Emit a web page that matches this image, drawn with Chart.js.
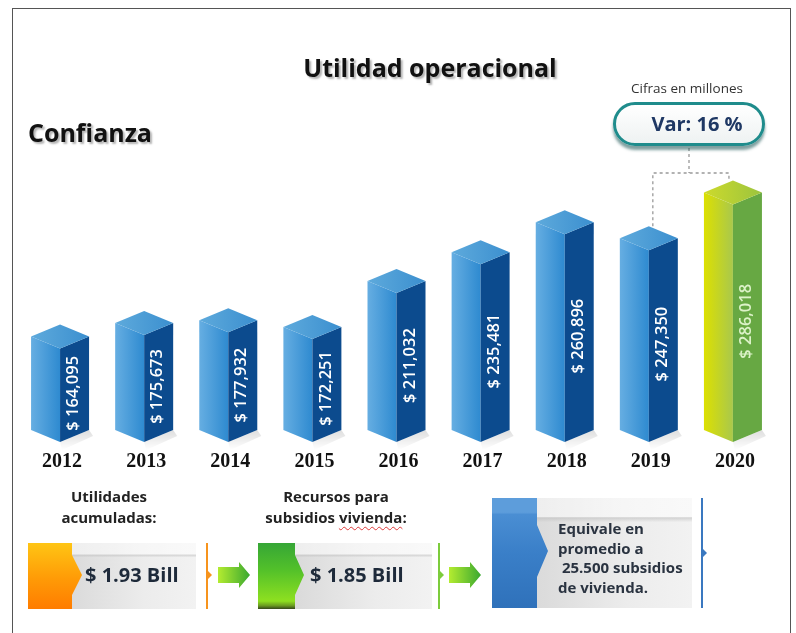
<!DOCTYPE html>
<html>
<head>
<meta charset="utf-8">
<script src="https://cdn.jsdelivr.net/npm/chart.js@4.4.1/dist/chart.umd.min.js"></script>
<style>
  body { margin: 0; background: #fff; font-family: 'Open Sans', sans-serif; }
  #wrap { position: relative; width: 796px; height: 633px; overflow: hidden; }
  #frame { position: absolute; left: 12px; top: 8px; width: 777px; height: 640px; border: 1.5px solid #555; }
  #chart { position: absolute; left: 0; top: 0; }
  .abs { position: absolute; }
  .big { font-weight: 700; font-size: 25px; color: #111; text-shadow: 2px 2px 2px rgba(0,0,0,0.3); white-space: nowrap; }
  #title { left: 0; width: 860px; top: 50px; text-align: center; }
  #conf { left: 28px; top: 115px; }
  #cifras { left: 612px; width: 150px; top: 79px; text-align: center; font-size: 13.5px; color: #333; }
  #pill { left: 613px; top: 102px; width: 130px; height: 38px; border: 3px solid #1f8c8c; border-radius: 22px;
          background: linear-gradient(#ffffff, #eef2f2); box-shadow: 0 4px 3px rgba(20,80,80,0.55);
          font-weight: 700; font-size: 20px; color: #1f3864; text-align: center; line-height: 38px; padding-left: 16px; }
  .cap { font-weight: 700; font-size: 15px; color: #222; text-align: center; line-height: 21px; white-space: nowrap; }
  .wavy { text-decoration: underline wavy #e03a3a; text-decoration-thickness: 1px; text-underline-offset: 3px; }
  .gray { background:
            linear-gradient(to bottom, rgba(255,255,255,0.55) 0, rgba(255,255,255,0.55) 17%, rgba(190,190,190,0.6) 18%, rgba(255,255,255,0) 22%),
            linear-gradient(to right, #d9d9d9, #ececec 60%, #f2f2f2); }
  .val { font-weight: 700; font-size: 20px; color: #1e2a3a; white-space: nowrap; }
  .vline { width: 2px; }
  .tri { width: 0; height: 0; border-top: 4px solid transparent; border-bottom: 4px solid transparent; }
  .arrow { width: 32px; height: 26px; background: linear-gradient(to right, #b4ec30, #3aa830);
           clip-path: polygon(0 5px, 21px 5px, 21px 0, 32px 13px, 21px 26px, 21px 21px, 0 21px); }
</style>
</head>
<body>
<div id="wrap">
  <div id="frame"></div>
  <canvas id="chart" width="796" height="633"></canvas>

  <div id="title" class="abs big">Utilidad operacional</div>
  <div id="conf" class="abs big">Confianza</div>
  <div id="cifras" class="abs">Cifras en millones</div>
  <div id="pill" class="abs">Var: 16 %</div>

  <!-- bloque 1 -->
  <div class="abs cap" style="left:49px; width:120px; top:486px;">Utilidades<br>acumuladas:</div>
  <div class="abs gray" style="left:66px; top:543px; width:130px; height:66px;"></div>
  <div class="abs" style="left:28px; top:543px; width:54px; height:66px;
       background: linear-gradient(to bottom, #ffc514, #ff9a06 55%, #ff7c00);
       clip-path: polygon(0 0, 44px 0, 44px 12px, 54px 32px, 44px 52px, 44px 100%, 0 100%);"></div>
  <div class="abs val" style="left:85px; top:561px;">$ 1.93 Bill</div>
  <div class="abs vline" style="left:206px; top:543px; height:66px; background:#f7941d;"></div>
  <div class="abs tri" style="left:208px; top:571px; border-left:4px solid #f7941d;"></div>
  <div class="abs arrow" style="left:218px; top:562px;"></div>

  <!-- bloque 2 -->
  <div class="abs cap" style="left:256px; width:160px; top:486px;">Recursos para<br>subsidios <span class="wavy">vivienda</span>:</div>
  <div class="abs gray" style="left:290px; top:543px; width:142px; height:66px;"></div>
  <div class="abs" style="left:258px; top:543px; width:46px; height:66px;
       background: linear-gradient(to bottom, #36a636, #52c02a 40%, #8ee020 88%, #6a9a20 95%, #34461a 100%);
       clip-path: polygon(0 0, 37px 0, 37px 12px, 46px 32px, 37px 52px, 37px 100%, 0 100%);"></div>
  <div class="abs val" style="left:310px; top:561px;">$ 1.85 Bill</div>
  <div class="abs vline" style="left:438px; top:543px; height:66px; background:#7ccc3c;"></div>
  <div class="abs tri" style="left:440px; top:571px; border-left:4px solid #7ccc3c;"></div>
  <div class="abs arrow" style="left:449px; top:562px;"></div>

  <!-- bloque 3 -->
  <div class="abs gray" style="left:530px; top:498px; width:162px; height:110px;"></div>
  <div class="abs" style="left:492px; top:498px; width:56px; height:110px;
       background: linear-gradient(to bottom, #5d9ddb 0, #5d9ddb 13%, #4a8ed3 15%, #3a7fc8 50%, #2f71ba 100%);
       clip-path: polygon(0 0, 45px 0, 45px 27px, 56px 53px, 45px 79px, 45px 100%, 0 100%);"></div>
  <div class="abs" style="left:558px; top:519px; font-weight:700; font-size:15px; line-height:19.5px; color:#2a3340; white-space:pre;">Equivale en
promedio a
 25.500 subsidios
de vivienda.</div>
  <div class="abs vline" style="left:701px; top:498px; height:110px; background:#3a78c0;"></div>
  <div class="abs tri" style="left:703px; top:549px; border-left:4px solid #3a78c0;"></div>
</div>

<script>
const YEARS = ['2012', '2013', '2014', '2015', '2016', '2017', '2018', '2019', '2020'];
const UTILIDAD = [164095, 175673, 177932, 172251, 211032, 235481, 260896, 247350, 286018];
const VALUE_LABELS = UTILIDAD.map(v => '$ ' + v.toLocaleString('en-US'));
const HIGHLIGHT = 8;
const Y_MIN = 85000, Y_MAX = 300000;

const BLUE = { left0: '#66aee2', left1: '#2e8ad0', right: '#0c4b8e', top0: '#5eaadc', top1: '#3b8fcf', text: '#ffffff' };
const GREEN = { left0: '#dde000', left1: '#a9c84c', right: '#67a843', top0: '#cdda2c', top1: '#9cc43e', text: '#dcf2c8' };
const DEPTH = 12;

function poly(ctx, pts, fill) {
  ctx.beginPath();
  ctx.moveTo(pts[0][0], pts[0][1]);
  pts.slice(1).forEach(p => ctx.lineTo(p[0], p[1]));
  ctx.closePath();
  ctx.fillStyle = fill;
  ctx.fill();
}

const prismPlugin = {
  id: 'prism',
  afterDatasetsDraw(chart) {
    const ctx = chart.ctx;
    const meta = chart.getDatasetMeta(0);
    const d = DEPTH;
    meta.data.forEach((bar, i) => {
      const { x, y, base, width } = bar.getProps(['x', 'y', 'base', 'width'], true);
      const w = width / 2;
      const col = i === HIGHLIGHT ? GREEN : BLUE;
      ctx.save();

      // sombra en el piso
      const gs = ctx.createLinearGradient(0, base - d, 0, base + 8);
      gs.addColorStop(0, 'rgba(0,0,0,0.13)');
      gs.addColorStop(1, 'rgba(0,0,0,0)');
      poly(ctx, [[x, base], [x + w, base - d], [x + w + 4, base - d + 6], [x + 2, base + 8]], gs);

      const gl = ctx.createLinearGradient(x - w, 0, x, 0);
      gl.addColorStop(0, col.left0);
      gl.addColorStop(1, col.left1);
      poly(ctx, [[x - w, y - d], [x, y], [x, base], [x - w, base - d]], gl);

      poly(ctx, [[x, y], [x + w, y - d], [x + w, base - d], [x, base]], col.right);

      const gt = ctx.createLinearGradient(x - w, 0, x + w, 0);
      gt.addColorStop(0, col.top0);
      gt.addColorStop(1, col.top1);
      poly(ctx, [[x - w, y - d], [x, y - 2 * d], [x + w, y - d], [x, y]], gt);

      // etiqueta de valor
      ctx.translate(x + w / 2 - 1, (y + base) / 2 - 2);
      ctx.rotate(-Math.PI / 2);
      ctx.font = '600 16.5px "Open Sans"';
      ctx.fillStyle = col.text;
      ctx.textAlign = 'center';
      ctx.textBaseline = 'middle';
      ctx.fillText(VALUE_LABELS[i], 0, 0);
      ctx.restore();

      ctx.save();
      ctx.font = 'bold 20px "Liberation Serif"';
      ctx.fillStyle = '#111';
      ctx.textAlign = 'center';
      ctx.textBaseline = 'middle';
      ctx.fillText(YEARS[i], x + 2, base + 20);
      ctx.restore();
    });

    // conector punteado desde la etiqueta de variacion
    const b19 = meta.data[7], b20 = meta.data[8];
    const yH = 173;
    ctx.save();
    ctx.strokeStyle = '#999';
    ctx.lineWidth = 1.3;
    ctx.setLineDash([3, 3]);
    ctx.beginPath();
    ctx.moveTo(689, 148); ctx.lineTo(689, yH);
    ctx.moveTo(b19.x + 4, b19.y - 2 * d); ctx.lineTo(b19.x + 4, yH); ctx.lineTo(b20.x - 4, yH); ctx.lineTo(b20.x - 4, b20.y - 2 * d);
    ctx.stroke();
    ctx.restore();
  }
};

new Chart(document.getElementById('chart'), {
  type: 'bar',
  data: {
    labels: YEARS,
    datasets: [{ data: UTILIDAD, base: Y_MIN, backgroundColor: 'rgba(0,0,0,0)', barThickness: 58 }],
  },
  options: {
    responsive: false, animation: false,
    layout: { padding: { left: 18, right: 21, top: 188, bottom: 191 } },
    plugins: { legend: { display: false }, tooltip: { enabled: false } },
    scales: {
      x: { display: false },
      y: { display: false, min: Y_MIN, max: Y_MAX },
    },
  },
  plugins: [prismPlugin],
});
</script>
</body>
</html>
